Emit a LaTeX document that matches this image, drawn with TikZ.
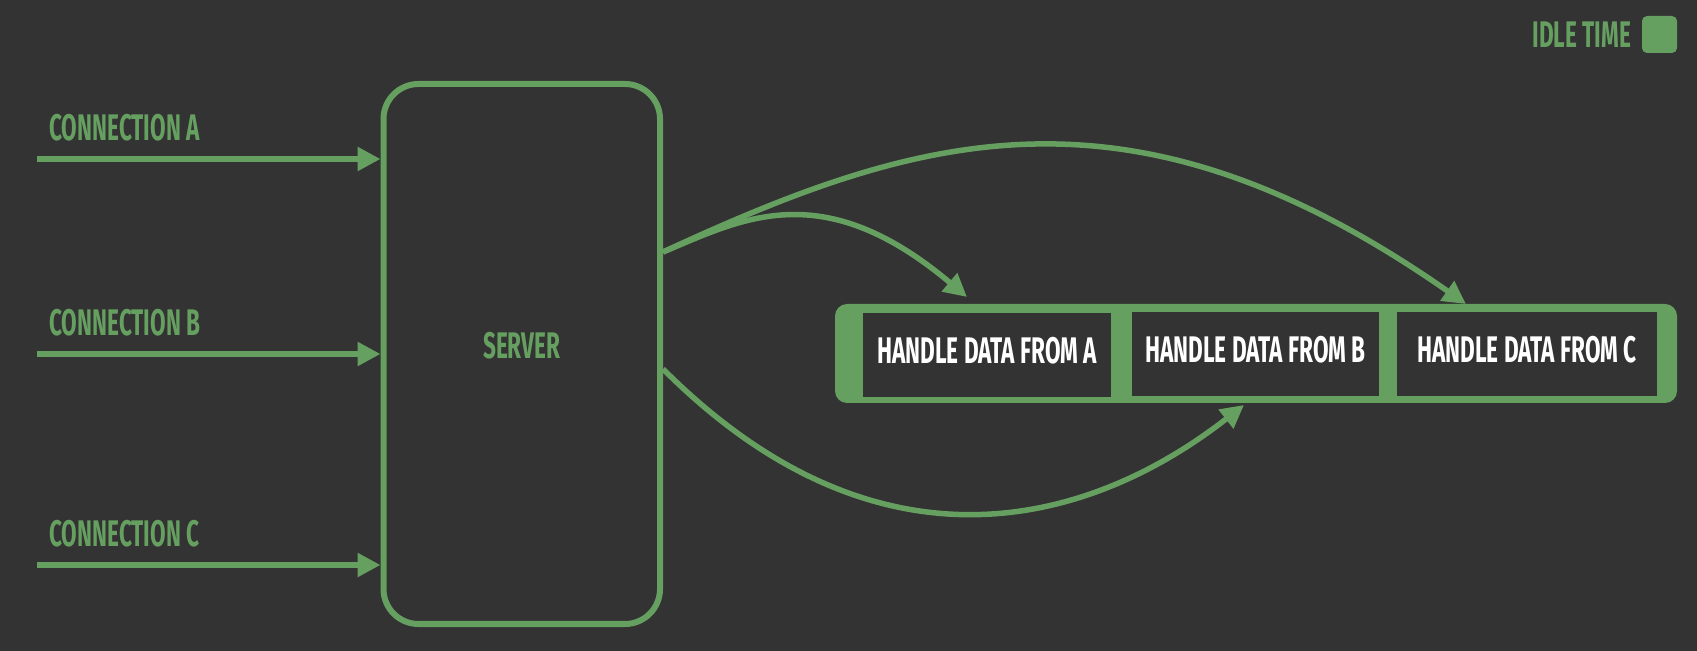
\documentclass[tikz,border=0pt]{standalone}
\usepackage{fontspec}
\setmainfont{Fira Sans}[FakeStretch=0.61]
\usetikzlibrary{arrows.meta}
\definecolor{bgdark}{HTML}{333333}
\definecolor{idle}{HTML}{66A061}
\tikzset{
    txt/.style={font=\fontsize{18.5pt}{21pt}\selectfont\bfseries, inner sep=0pt},
    lbl/.style={txt, text=idle, anchor=west},
    conn/.style={draw=idle, line width=2.75pt, -{Triangle[length=11.5pt,width=11.5pt]}},
    task/.style={txt, text=white, fill=bgdark, minimum height=42pt, text depth=4.5pt},
}

\begin{document}
\begin{tikzpicture}[x=0.5pt,y=-0.5pt]
        \fill[bgdark] (0,0) rectangle (1697,651);
        % legend
        \node[lbl] (idletxt) at (1532,35) {IDLE TIME};
        \node[fill=idle, rounded corners=2.5pt, minimum width=17.5pt, minimum height=18.5pt, inner sep=0pt] (idlebox) at (1659.5,34.5) {};
        % server
        \node[txt, draw=idle, text=idle, line width=3pt, rounded corners=17.5pt, minimum width=138.25pt, minimum height=270pt, text depth=9pt] (server) at (521.75,354) {SERVER};
        % incoming connections
        \node[lbl] (lblA) at (49,128) {CONNECTION A};
        \node[lbl] (lblB) at (49,323) {CONNECTION B};
        \node[lbl] (lblC) at (49,534) {CONNECTION C};
        \coordinate (inA) at (37,159);
        \coordinate (inB) at (37,354);
        \coordinate (inC) at (37,565);
        \draw[conn] (inA) -- (inA -| server.west);
        \draw[conn] (inB) -- (inB -| server.west);
        \draw[conn] (inC) -- (inC -| server.west);
        % event loop
        \node[fill=idle, rounded corners=6pt, minimum width=421pt, minimum height=49.5pt, inner sep=0pt, outer sep=0pt] (bar) at (1256,353.5) {};
        \node[task, minimum width=124pt] (hA) at (987,355) {HANDLE DATA FROM A};
        \node[task, minimum width=123.5pt] (hB) at (1255.5,354) {HANDLE DATA FROM B};
        \node[task, minimum width=130pt] (hC) at (1527,354) {HANDLE DATA FROM C};
        % callbacks
        \coordinate (outA) at ([yshift=51pt]server.east);
        \coordinate (outB) at ([yshift=-7.5pt]server.east);
        \draw[conn] (outA) .. controls (918,134) and (1130,69) .. ([xshift=105pt]bar.north);
        \draw[conn] (outA) .. controls (742,219) and (822,175) .. ([xshift=-144.5pt,yshift=3.5pt]bar.north);
        \draw[conn] (outB) .. controls (878,584) and (1089,526) .. ([xshift=-6pt,yshift=-1pt]bar.south);
\end{tikzpicture}
\end{document}
